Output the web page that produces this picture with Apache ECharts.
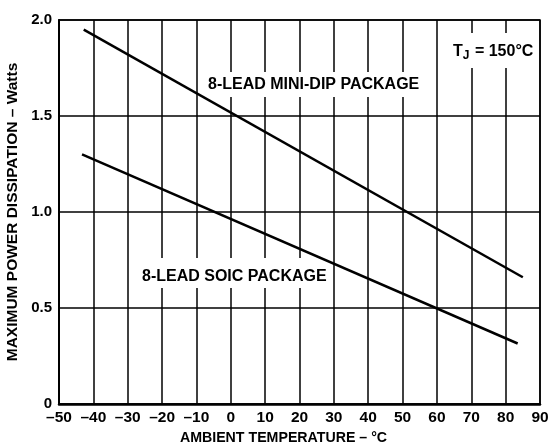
<!DOCTYPE html>
<html>
<head>
<meta charset="utf-8">
<script src="https://cdn.jsdelivr.net/npm/echarts@6/dist/echarts.min.js"></script>
<style>html,body{margin:0;padding:0;background:#fff}#c{width:549px;height:443px}</style>
</head>
<body>
<div id="c"></div>
<script>
// Data
const miniDipTemp = [-42.8, 85];
const miniDipPower = [1.95, 0.66];
const soicTemp = [-43.3, 83.5];
const soicPower = [1.30, 0.315];
const xTicks = [-50, -40, -30, -20, -10, 0, 10, 20, 30, 40, 50, 60, 70, 80, 90];
const yTicks = [0, 0.5, 1.0, 1.5, 2.0];
const yTickLabels = ['0', '0.5', '1.0', '1.5', '2.0'];
const labelMiniDip = '8-LEAD MINI-DIP PACKAGE';
const labelSoic = '8-LEAD SOIC PACKAGE';

const F = '"Liberation Sans", Arial, Helvetica, sans-serif';
const chart = echarts.init(document.getElementById('c'), null, {renderer: 'canvas'});
const pair = (xs, ys) => xs.map((x, i) => [x, ys[i]]);

chart.setOption({
  animation: false,
  grid: {left: 59, right: 9, top: 20, bottom: 39, show: true, borderColor: '#000', borderWidth: 1.5,
         containLabel: false, outerBoundsMode: 'none'},
  xAxis: {
    type: 'value', min: -50, max: 90, interval: 10,
    name: 'AMBIENT TEMPERATURE – °C', nameLocation: 'middle', nameGap: 25,
    nameTextStyle: {fontFamily: F, fontWeight: 'bold', fontSize: 14.2, color: '#000', padding: [0, 32, 0, 0]},
    axisLine: {show: true, onZero: false, lineStyle: {color: '#000', width: 2.5}},
    axisTick: {show: false},
    axisLabel: {fontFamily: F, fontWeight: 'bold', fontSize: 15.5, color: '#000', margin: 6,
      formatter: v => { const t = xTicks.find(k => k === v); return String(t).replace('-', '–'); }},
    splitLine: {show: true, lineStyle: {color: '#000', width: 1.5}}
  },
  yAxis: {
    type: 'value', min: 0, max: 2, interval: 0.5,
    name: 'MAXIMUM POWER DISSIPATION – Watts', nameLocation: 'middle', nameGap: 33,
    nameTextStyle: {fontFamily: F, fontWeight: 'bold', fontSize: 15.5, color: '#000'},
    axisLine: {show: true, onZero: false, lineStyle: {color: '#000', width: 2}},
    axisTick: {show: false},
    axisLabel: {fontFamily: F, fontWeight: 'bold', fontSize: 15, color: '#000', margin: 7,
      formatter: v => { const i = yTicks.findIndex(k => Math.abs(k - v) < 1e-9); return i >= 0 ? yTickLabels[i] : ''; }},
    splitLine: {show: true, lineStyle: {color: '#000', width: 1.5}}
  },
  series: [
    {type: 'line', data: pair(miniDipTemp, miniDipPower), showSymbol: false, lineStyle: {color: '#000', width: 2.5}, z: 5},
    {type: 'line', data: pair(soicTemp, soicPower), showSymbol: false, lineStyle: {color: '#000', width: 2.5}, z: 5}
  ],
  graphic: [
    {type: 'text', left: 203, top: 72, z: 1, style: {text: labelMiniDip, fontFamily: F, fontWeight: 'bold', fontSize: 16, fill: '#000', backgroundColor: '#fff', padding: [5, 5, 4, 5]}},
    {type: 'text', left: 137, top: 258, z: 1, style: {text: labelSoic, fontFamily: F, fontWeight: 'bold', fontSize: 16, fill: '#000', backgroundColor: '#fff', padding: [10.5, 5, 3.5, 5]}},
    {type: 'text', left: 448, top: 33, z: 1, style: {
      text: '{t|T}{s|J}{t| = 150°C}', backgroundColor: '#fff', padding: [8, 5, 6, 5],
      rich: {
        t: {fontFamily: F, fontWeight: 'bold', fontSize: 16, fill: '#000', color: '#000'},
        s: {fontFamily: F, fontWeight: 'bold', fontSize: 12, fill: '#000', color: '#000', padding: [9, 1, 0, 0]}
      }}}
  ]
});
</script>
</body>
</html>
